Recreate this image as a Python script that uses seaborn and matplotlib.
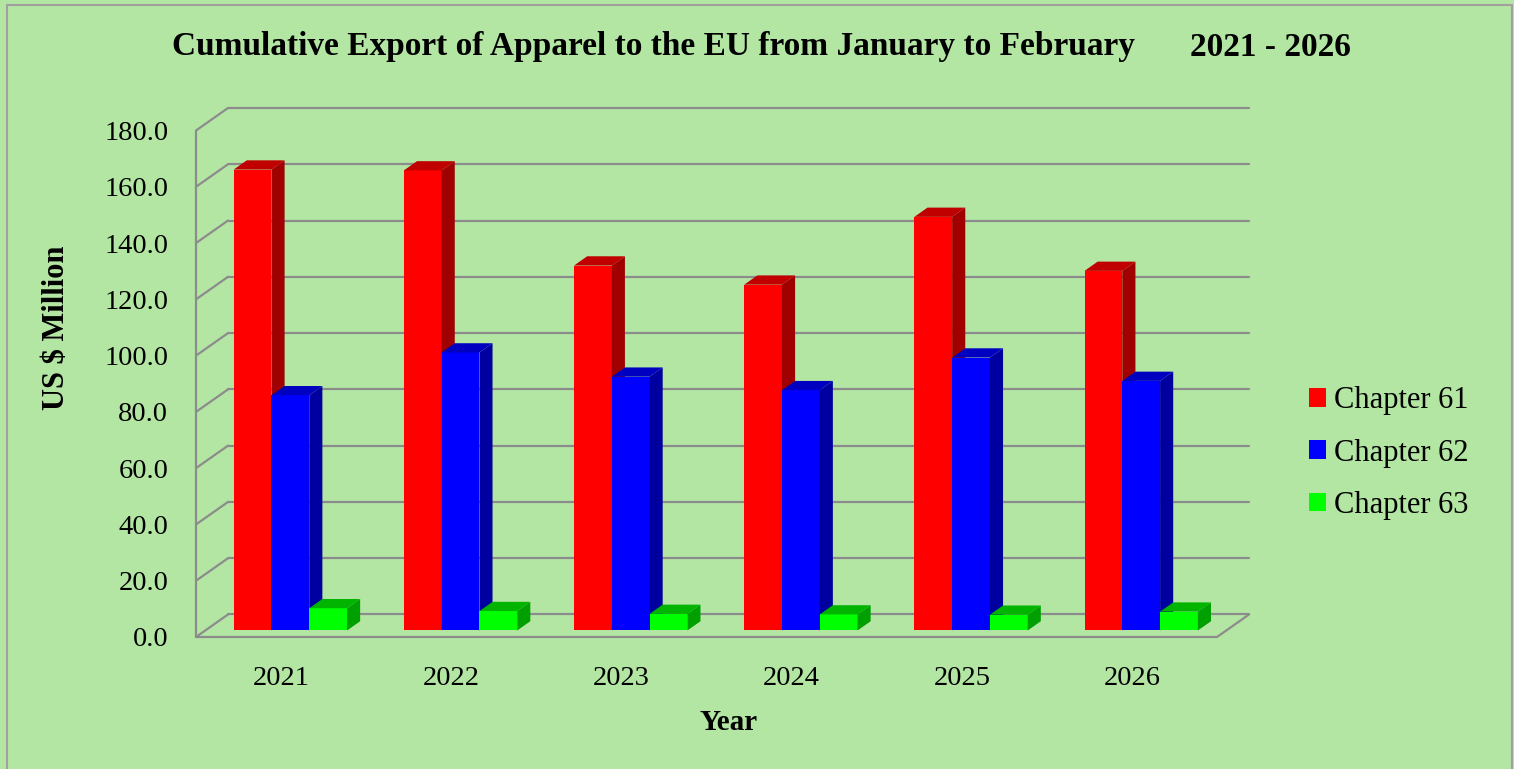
import pandas as pd
import numpy as np
import matplotlib.pyplot as plt
import seaborn as sns
from matplotlib.patches import Polygon, Rectangle

# Data
# ==============================================================================
years      = ['2021', '2022', '2023', '2024', '2025', '2026']
chapter_61 = [163.8, 163.5, 129.7, 122.9, 147.0, 127.8]
chapter_62 = [83.6, 98.8, 90.2, 85.4, 97.0, 88.7]
chapter_63 = [7.9, 6.9, 5.9, 5.7, 5.6, 6.7]
series     = ['Chapter 61', 'Chapter 62', 'Chapter 63']
y_ticks    = np.arange(0, 181, 20)

df = pd.DataFrame({'Year': years, series[0]: chapter_61,
                   series[1]: chapter_62, series[2]: chapter_63})
df = df.melt(id_vars='Year', var_name='Chapter', value_name='Value')

# Style
# ==============================================================================
bg = '#b4e6a3'
grid_col = '#8c8c8c'
face_cols = ['#ff0000', '#0000ff', '#00ff00']
side_cols = ['#a00000', '#0000a0', '#00a000']
top_cols  = ['#c00000', '#0000c0', '#00b400']

sns.set_style('white')
plt.rcParams['font.family'] = ['Liberation Serif', 'DejaVu Serif']
plt.rcParams['text.color'] = 'black'
plt.rcParams['xtick.labelcolor'] = 'black'
plt.rcParams['ytick.labelcolor'] = 'black'

W, H = 1514, 769
fig = plt.figure(figsize=(W / 100, H / 100), dpi=100, facecolor=bg)

# axes: front-left corner (196, 637) to back-right corner (1249, 108)
ax = fig.add_axes([196 / W, 1 - 637 / H, (1249 - 196) / W, (637 - 108) / H])
ax.patch.set_visible(False)

# depth of the "3D" box in data units
dx, dy = 0.188, 8.0
f_front, f_depth = 0.29, 0.41

sns.barplot(
    data      = df,
    x         = 'Year',
    y         = 'Value',
    hue       = 'Chapter',
    palette   = face_cols,
    saturation= 1,
    width     = 0.666,
    errorbar  = None,
    linewidth = 0,
    ax        = ax
)
handles, labels = ax.get_legend_handles_labels()
if ax.get_legend() is not None:
    ax.get_legend().remove()

ax.set_xlim(-0.5, 5.5 + dx)
ax.set_ylim(0, 180 + dy)

# walls and gridlines
x0, x1 = -0.5, 5.5
for v in y_ticks:
    ax.plot([x0 + dx, x1 + dx], [v + dy, v + dy], color=grid_col, lw=1.6, zorder=1, clip_on=False)
    ax.plot([x0, x0 + dx], [v, v + dy], color=grid_col, lw=1.6, zorder=1, clip_on=False)
ax.plot([x0, x0], [0, 180], color=grid_col, lw=1.6, zorder=1, clip_on=False)
ax.plot([x0, x1, x1 + dx], [0, 0, dy], color=grid_col, lw=1.6, zorder=1, clip_on=False)

# pseudo 3D bars
bars = []
for k, cont in enumerate(ax.containers):
    for bar in cont:
        bars.append((bar.get_x(), k, bar))
bars.sort(key=lambda t: t[0])

for rank, (_, k, bar) in enumerate(bars):
    z = 3 + rank * 0.01
    x = bar.get_x() + f_front * dx
    y0 = f_front * dy
    w = bar.get_width()
    h = bar.get_height()
    bar.set_x(x)
    bar.set_y(y0)
    bar.set_zorder(z)
    ddx, ddy = f_depth * dx, f_depth * dy
    side = Polygon([(x + w, y0), (x + w + ddx, y0 + ddy), (x + w + ddx, y0 + h + ddy), (x + w, y0 + h)],
                   closed=True, facecolor=side_cols[k], edgecolor='none', zorder=z)
    top = Polygon([(x, y0 + h), (x + w, y0 + h), (x + w + ddx, y0 + h + ddy), (x + ddx, y0 + h + ddy)],
                  closed=True, facecolor=top_cols[k], edgecolor='none', zorder=z)
    ax.add_patch(side)
    ax.add_patch(top)

# axes decorations
for s in ax.spines.values():
    s.set_visible(False)
ax.set_yticks(y_ticks, [f'{v:.1f}' for v in y_ticks])
ax.set_xticks(range(len(years)), years)
ax.tick_params(axis='y', labelsize=20.5, length=7, width=1.6, color=grid_col, pad=13,
               direction='out', labelcolor='black')
ax.tick_params(axis='x', labelsize=20.5, length=0, pad=21, labelcolor='black')
ax.set_xlabel('')
ax.set_ylabel('')

fig.text(57 / W, 1 - 328 / H, r'US \$ Million', rotation=90, ha='center', va='center',
         fontsize=22, fontweight='bold', color='black')
fig.text(729 / W, 1 - 722 / H, 'Year', ha='center', va='center', fontsize=21,
         fontweight='bold', color='black')

fig.text(172 / W, 1 - 47 / H, 'Cumulative Export of Apparel to the EU from January to February',
         ha='left', va='center', fontsize=24, fontweight='bold', color='black')
fig.text(1190 / W, 1 - 47 / H, '2021 - 2026', ha='left', va='center', fontsize=24,
         fontweight='bold', color='black')

leg = fig.legend(handles, labels, loc='center left', bbox_to_anchor=(1309 / W, 1 - 453 / H),
                 frameon=False, fontsize=22, handlelength=0.56, handleheight=0.56,
                 handletextpad=0.26, labelspacing=0.76, borderpad=0, borderaxespad=0)
for t in leg.get_texts():
    t.set_color('black')

fig.add_artist(Rectangle((7 / W, -0.01), (1512 - 7) / W, 1.01 - 5 / H, transform=fig.transFigure,
                         facecolor='none', edgecolor='#a0a0a0', lw=1.5))

plt.savefig('out.png', dpi=100, facecolor=bg)
